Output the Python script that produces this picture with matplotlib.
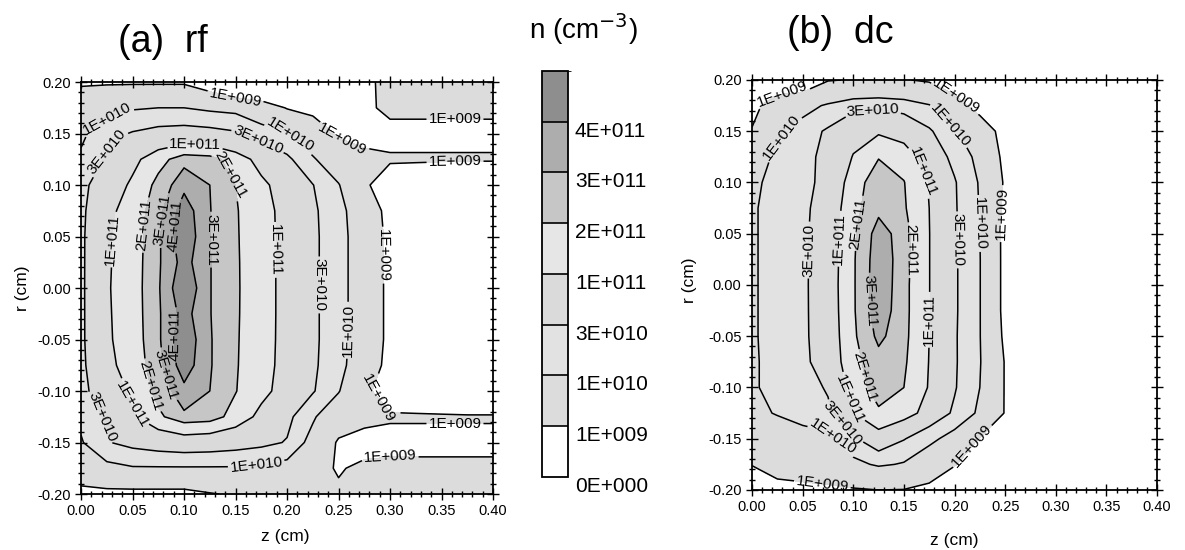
import numpy as np
import matplotlib
matplotlib.use('Agg')
import matplotlib.pyplot as plt
from matplotlib.colors import ListedColormap, BoundaryNorm
from matplotlib.ticker import MultipleLocator, FormatStrFormatter

plt.rcParams['font.family'] = ['Liberation Sans', 'DejaVu Sans']
plt.rcParams['axes.unicode_minus'] = False

# grid nodes (cm)
z_cm = [0.0, 0.025, 0.05, 0.075, 0.1, 0.125, 0.15, 0.175, 0.2,
        0.225, 0.25, 0.275, 0.3, 0.325, 0.35, 0.375, 0.4]
r_cm = [0.2, 0.175, 0.15, 0.125, 0.1, 0.075, 0.05, 0.025, 0.0,
        -0.025, -0.05, -0.075, -0.1, -0.125, -0.15, -0.175, -0.2]

# density, in units of 1E+009 cm^-3 (rows follow r_cm)
n_rf = [
    [0.8, 0.8, 0.8, 0.8, 0.8, 0.3, 0.05, 0.05, 0.1, 0.2, 0.3, 0.5, 2.5, 3, 3, 3, 3],
    [3, 6, 9, 10, 10, 8, 7, 3, 0.9, 0.6, 0.6, 0.7, 1.5, 1.5, 1.5, 1.5, 1.5],
    [8, 20, 33, 45, 50, 45, 35, 20, 11, 3, 0.8, 0.6, 0.6, 0.6, 0.6, 0.6, 0.6],
    [12, 35, 80, 160, 270, 250, 150, 75, 38, 12, 3, 1.5, 1.2, 1.2, 1.2, 1.2, 1.2],
    [22, 60, 115, 240, 370, 300, 200, 118, 70, 31, 11, 1.3, 0.4, 0.3, 0.2, 0.1, 0.1],
    [24, 80, 145, 275, 470, 305, 210, 135, 76, 36, 15, 4, 0.5, 0.3, 0.2, 0.1, 0.1],
    [25, 88, 155, 285, 500, 305, 212, 138, 77, 37, 16, 4.5, 0.6, 0.3, 0.2, 0.1, 0.1],
    [25, 90, 158, 288, 450, 305, 214, 140, 77, 37, 16, 4.5, 0.6, 0.3, 0.2, 0.1, 0.1],
    [25, 92, 160, 290, 520, 305, 215, 140, 77, 37, 16, 4.5, 0.6, 0.3, 0.2, 0.1, 0.1],
    [25, 90, 158, 288, 450, 305, 214, 140, 77, 37, 16, 4.5, 0.6, 0.3, 0.2, 0.1, 0.1],
    [25, 88, 155, 285, 500, 310, 212, 138, 77, 37, 16, 4.5, 0.6, 0.3, 0.2, 0.1, 0.1],
    [24, 80, 145, 275, 470, 310, 210, 135, 76, 36, 15, 4, 0.5, 0.3, 0.2, 0.1, 0.1],
    [22, 60, 115, 240, 370, 300, 205, 125, 72, 33, 11, 1.5, 0.4, 0.3, 0.2, 0.1, 0.1],
    [13, 35, 90, 180, 280, 260, 160, 80, 40, 12, 3, 1.5, 1.2, 1.2, 1.2, 1.2, 1.2],
    [9, 28, 42, 55, 65, 60, 50, 40, 28, 6, 0.8, 0.6, 0.6, 0.6, 0.6, 0.6, 0.6],
    [3, 7, 9, 9, 9, 9, 9, 8, 6, 1.5, 0.9, 1.3, 1.5, 1.5, 1.5, 1.5, 1.5],
    [0.6, 0.6, 0.6, 0.6, 0.6, 0.9, 1.2, 1.2, 1.3, 1.3, 1.2, 1.1, 1.5, 2.5, 3, 3, 3],
]

n_dc = [
    [0.3, 0.3, 0.2, 0.9, 1.1, 1.2, 1.1, 0.8, 0.4, 0.3, 0.2, 0.2, 0.2, 0.2, 0.2, 0.2, 0.2],
    [0.6, 2.5, 6, 12, 22, 25, 20, 11, 2, 0.5, 0.3, 0.2, 0.2, 0.2, 0.2, 0.2, 0.2],
    [1.1, 8, 18, 35, 70, 90, 70, 35, 12, 3, 0.5, 0.2, 0.2, 0.2, 0.2, 0.2, 0.2],
    [6, 12, 22, 40, 105, 195, 150, 65, 22, 7, 0.6, 0.2, 0.2, 0.2, 0.2, 0.2, 0.2],
    [8, 14, 22, 42, 160, 260, 205, 95, 33, 9, 0.8, 0.2, 0.2, 0.2, 0.2, 0.2, 0.2],
    [9, 14, 23, 55, 175, 270, 215, 100, 34, 9.5, 0.7, 0.2, 0.2, 0.2, 0.2, 0.2, 0.2],
    [9, 14, 24, 60, 185, 360, 250, 102, 35, 10, 0.6, 0.2, 0.2, 0.2, 0.2, 0.2, 0.2],
    [9, 14, 24, 63, 190, 380, 250, 102, 35, 10.5, 0.6, 0.2, 0.2, 0.2, 0.2, 0.2, 0.2],
    [9, 14, 24, 65, 190, 390, 240, 102, 35, 10.5, 0.6, 0.2, 0.2, 0.2, 0.2, 0.2, 0.2],
    [9, 14, 24, 63, 190, 375, 240, 102, 35, 10.5, 0.6, 0.2, 0.2, 0.2, 0.2, 0.2, 0.2],
    [9, 14, 24, 60, 185, 330, 235, 100, 34, 10.5, 0.7, 0.2, 0.2, 0.2, 0.2, 0.2, 0.2],
    [9, 13, 23, 55, 175, 260, 220, 98, 34, 11, 0.9, 0.2, 0.2, 0.2, 0.2, 0.2, 0.2],
    [9, 13, 18, 34, 150, 250, 200, 95, 33, 10, 0.9, 0.2, 0.2, 0.2, 0.2, 0.2, 0.2],
    [7, 11, 16, 24, 98, 185, 150, 70, 25, 8, 0.9, 0.2, 0.2, 0.2, 0.2, 0.2, 0.2],
    [1.2, 4, 6, 7, 25, 70, 32, 14, 6, 0.9, 0.5, 0.2, 0.2, 0.2, 0.2, 0.2, 0.2],
    [1.05, 2.5, 3, 4, 7, 12, 9, 4, 1.1, 0.4, 0.2, 0.2, 0.2, 0.2, 0.2, 0.2, 0.2],
    [0.4, 0.5, 0.6, 0.7, 0.85, 1.0, 0.95, 0.6, 0.3, 0.2, 0.2, 0.2, 0.2, 0.2, 0.2, 0.2, 0.2],
]

line_levels = [1e9, 1e10, 3e10, 1e11, 2e11, 3e11, 4e11]
line_labels = ['1E+009', '1E+010', '3E+010', '1E+011', '2E+011', '3E+011', '4E+011']
bar_labels = ['0E+000'] + line_labels
band_colors = ['#ffffff', '#dcdcdc', '#e2e2e2', '#dadada', '#e6e6e6',
               '#c6c6c6', '#adadad', '#8e8e8e']

# where the contour labels sit (z, r)
label_spots_rf = [
    (0.150, 0.186), (0.023, 0.171), (0.023, 0.134), (0.111, 0.144),
    (0.145, 0.110), (0.205, 0.150), (0.172, 0.144), (0.256, 0.150),
    (0.363, 0.165), (0.363, 0.125), (0.033, 0.047), (0.065, 0.061),
    (0.078, 0.066), (0.096, 0.060), (0.094, -0.046), (0.123, 0.047),
    (0.188, 0.037), (0.234, 0.003), (0.261, -0.041), (0.290, 0.032),
    (0.080, -0.085), (0.067, -0.095), (0.057, -0.110), (0.043, -0.118),
    (0.170, -0.170), (0.276, -0.118), (0.363, -0.128), (0.300, -0.163),
]
label_spots_dc = [
    (0.030, 0.186), (0.038, 0.140), (0.120, 0.165), (0.200, 0.182),
    (0.195, 0.155), (0.161, 0.107), (0.106, 0.060), (0.090, 0.045),
    (0.063, 0.034), (0.154, 0.034), (0.124, -0.015), (0.205, 0.044),
    (0.224, 0.060), (0.238, 0.070), (0.176, -0.034), (0.117, -0.088),
    (0.108, -0.108), (0.092, -0.132), (0.077, -0.151), (0.070, -0.190),
    (0.210, -0.151),
]

log_lines = list(np.log10(line_levels))
fill_levels = [7.0] + log_lines + [12.0]
cmap = ListedColormap(band_colors)
norm = BoundaryNorm(fill_levels, cmap.N)
fmt = dict(zip(log_lines, line_labels))

fig = plt.figure(figsize=(11.85, 5.5), dpi=100)
ax_a = fig.add_axes([0.0684, 0.1018, 0.3477, 0.749])
ax_b = fig.add_axes([0.6346, 0.1091, 0.3418, 0.7455])
cax = fig.add_axes([0.4574, 0.1327, 0.0219, 0.7383])


def draw_panel(ax, n, spots):
    logn = np.log10(np.array(n, dtype=float)) + 9
    cf = ax.contourf(z_cm, r_cm, logn, levels=fill_levels, cmap=cmap, norm=norm)
    cs = ax.contour(z_cm, r_cm, logn, levels=log_lines, colors='black', linewidths=1.1)
    ax.clabel(cs, fmt=fmt, fontsize=11, inline=True, inline_spacing=2, manual=spots)
    ax.set_xlim(0, 0.4)
    ax.set_ylim(-0.2, 0.2)
    ax.xaxis.set_major_locator(MultipleLocator(0.05))
    ax.yaxis.set_major_locator(MultipleLocator(0.05))
    ax.xaxis.set_minor_locator(MultipleLocator(0.01))
    ax.yaxis.set_minor_locator(MultipleLocator(0.01))
    ax.xaxis.set_major_formatter(FormatStrFormatter('%.2f'))
    ax.yaxis.set_major_formatter(FormatStrFormatter('%.2f'))
    ax.tick_params(which='both', direction='inout', top=True, right=True,
                   labelsize=10.5, width=1.0)
    ax.tick_params(which='major', length=8)
    ax.tick_params(which='minor', length=5)
    for s in ax.spines.values():
        s.set_linewidth(1.3)
    return cf


cf = draw_panel(ax_a, n_rf, label_spots_rf)
draw_panel(ax_b, n_dc, label_spots_dc)

cb = fig.colorbar(cf, cax=cax, ticks=fill_levels[:-1], drawedges=True)
cb.ax.set_yticklabels(bar_labels)
cb.ax.tick_params(length=0, labelsize=15, pad=5)
for lab in cb.ax.get_yticklabels():
    lab.set_va('top')
cb.outline.set_linewidth(1.3)
cb.dividers.set_linewidth(1.2)

fig.text(0.1375, 0.923, '(a)  rf', fontsize=27, ha='center', va='center')
fig.text(0.709, 0.94, '(b)  dc', fontsize=27, ha='center', va='center')
fig.text(0.492, 0.948, 'n (cm$^{-3}$)', fontsize=20, ha='center', va='center')
fig.text(0.241, 0.024, 'z (cm)', fontsize=12.5, ha='center', va='center')
fig.text(0.805, 0.018, 'z (cm)', fontsize=12.5, ha='center', va='center')
fig.text(0.0186, 0.476, 'r (cm)', fontsize=12.5, ha='center', va='center', rotation=90)
fig.text(0.582, 0.49, 'r (cm)', fontsize=12.5, ha='center', va='center', rotation=90)

fig.savefig('out.png', dpi=100)
